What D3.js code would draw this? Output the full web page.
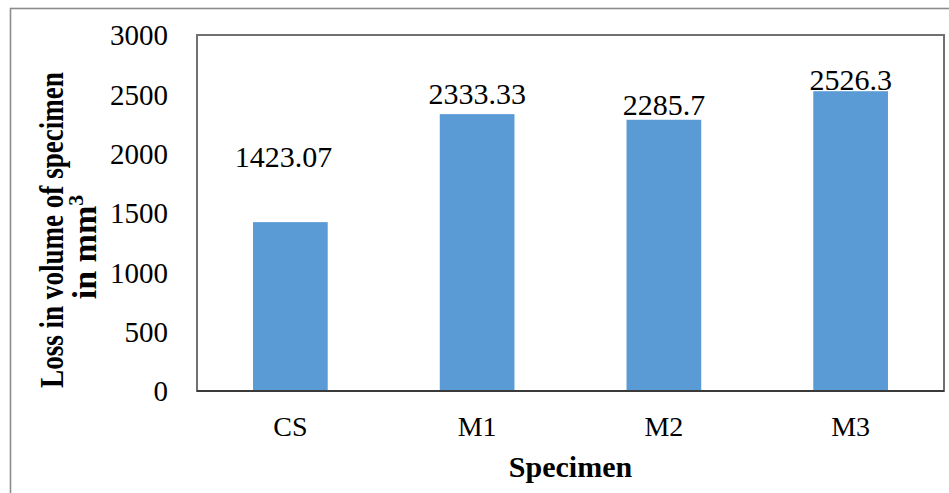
<!DOCTYPE html>
<html>
<head>
<meta charset="utf-8">
<script src="https://cdn.jsdelivr.net/npm/d3@7"></script>
<style>
  html, body { margin: 0; padding: 0; background: #fff; }
  svg { display: block; font-family: "Liberation Serif", "Times New Roman", serif; }
</style>
</head>
<body>
<svg id="chart" width="949" height="493"></svg>
<script>
// Loss in volume per specimen (mm³)
const categories = ["CS", "M1", "M2", "M3"];
const lossValues = [1423.07, 2333.33, 2285.7, 2526.3];
const valueLabels = ["1423.07", "2333.33", "2285.7", "2526.3"];
const yTicks = [0, 500, 1000, 1500, 2000, 2500, 3000];

// Label placement above each bar (px gap, px horizontal nudge)
const labelGap = [55, 10, 5, 1];
const labelNudge = [-7, 0, 0, 0];

const serif = "Liberation Serif, Times New Roman, serif";
const svg = d3.select("#chart");
const plot = { left: 197, top: 35, right: 944, bottom: 391 };

// Outer chart frame
svg.append("rect")
  .attr("x", 10.5).attr("y", 8.5)
  .attr("width", 960).attr("height", 500)
  .attr("fill", "none").attr("stroke", "#8c8c8c").attr("stroke-width", 1.6);

const x = d3.scaleBand()
  .domain(categories)
  .range([plot.left, plot.right])
  .paddingInner(0.6).paddingOuter(0.3);

const y = d3.scaleLinear()
  .domain([0, 3000])
  .range([plot.bottom, plot.top]);

// Plot area border
svg.append("rect")
  .attr("x", plot.left).attr("y", plot.top)
  .attr("width", plot.right - plot.left).attr("height", plot.bottom - plot.top)
  .attr("fill", "none").attr("stroke", "#707070").attr("stroke-width", 2);

// Bars
svg.append("g").selectAll("rect")
  .data(categories)
  .join("rect")
  .attr("x", (d) => x(d))
  .attr("width", x.bandwidth())
  .attr("y", (d, i) => y(lossValues[i]))
  .attr("height", (d, i) => y(0) - y(lossValues[i]))
  .attr("fill", "#5B9BD5");

// Category axis line
svg.append("line")
  .attr("x1", plot.left).attr("x2", plot.right)
  .attr("y1", plot.bottom).attr("y2", plot.bottom)
  .attr("stroke", "#3a3a3a").attr("stroke-width", 2);

// Value axis (labels only)
const yAxis = d3.axisLeft(y).tickValues(yTicks).tickSize(0).tickPadding(29).tickFormat(d3.format("d"));
const yg = svg.append("g").attr("transform", `translate(${plot.left},0)`).call(yAxis);
yg.attr("font-family", serif).attr("font-size", 29);
yg.select(".domain").remove();
yg.selectAll("text").attr("fill", "#000").attr("dy", "0.34em");

// Category axis labels
const xAxis = d3.axisBottom(x).tickSize(0).tickPadding(0);
const xg = svg.append("g").attr("transform", `translate(0,${plot.bottom})`).call(xAxis);
xg.attr("font-family", serif).attr("font-size", 28);
xg.select(".domain").remove();
xg.selectAll("text").attr("fill", "#000").attr("dy", null).attr("y", 45);

// Data labels
svg.append("g").attr("font-family", serif).selectAll("text")
  .data(categories)
  .join("text")
  .attr("x", (d, i) => x(d) + x.bandwidth() / 2 + labelNudge[i])
  .attr("y", (d, i) => y(lossValues[i]) - labelGap[i])
  .attr("text-anchor", "middle")
  .attr("font-size", 30)
  .attr("fill", "#000")
  .text((d, i) => valueLabels[i]);

// Axis titles
svg.append("text")
  .attr("font-family", serif)
  .attr("x", (plot.left + plot.right) / 2).attr("y", 477)
  .attr("text-anchor", "middle")
  .attr("font-size", 30).attr("font-weight", "bold")
  .text("Specimen");

const yTitle = svg.append("g").attr("font-family", serif).attr("font-weight", "bold").attr("font-size", 34);
const line1 = yTitle.append("text")
  .attr("text-anchor", "middle")
  .text("Loss in volume of specimen");
// condense the long title line to fit the plot height
const natural = line1.node().getComputedTextLength();
const squeeze = 316 / natural;
line1.attr("transform", `translate(63,230) rotate(-90) scale(${squeeze},1)`);

const line2 = yTitle.append("text")
  .attr("transform", "translate(96,247) rotate(-90)")
  .attr("text-anchor", "middle");
line2.append("tspan").text("in mm");
line2.append("tspan").attr("font-size", 22).attr("dy", -13).text("3");
</script>
</body>
</html>
